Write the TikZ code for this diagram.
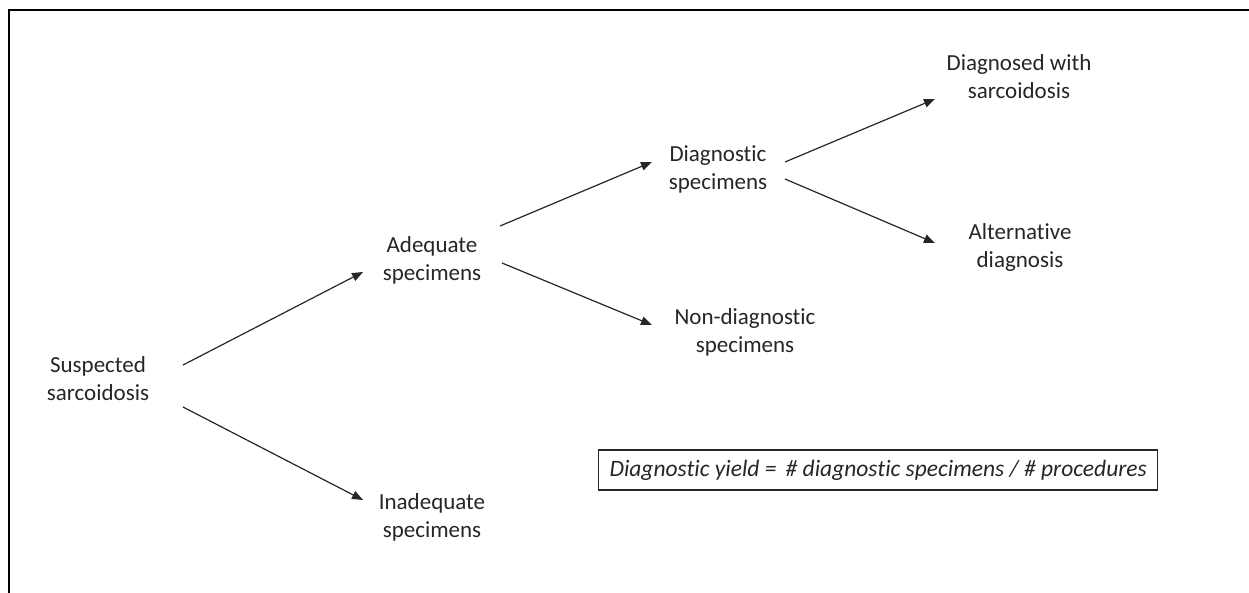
\documentclass[tikz,border=0pt]{standalone}
\usepackage{fontspec}
\setmainfont[Ligatures=NoCommon]{Carlito}
\usetikzlibrary{arrows.meta}
\definecolor{ink}{RGB}{38,38,38}
\tikzset{
  label/.style={align=center, text=ink, inner sep=0pt,
    font=\fontsize{23}{28}\selectfont},
  link/.style={draw=ink, line width=1.2pt,
    -{Triangle[length=11pt,width=8.5pt]}},
  formula/.style={draw=ink, line width=1.1pt, text=ink,
    minimum height=40pt, inner xsep=11pt,
    font=\fontsize{23.5}{28}\selectfont\itshape}
}
\begin{document}
\begin{tikzpicture}[x=1pt, y=-1pt]
  \useasboundingbox (0,0) rectangle (1249,592);
  % frame: top and left edges only
  \draw[line width=2.5pt, line cap=rect] (9,592) -- (9,10) -- (1249,10);

  % outcome nodes
  \node[label] (sus) at (98,379) {Suspected\\sarcoidosis};
  \node[label] (adq) at (432,260) {Adequate\\specimens};
  \node[label] (inadq) at (432,517) {Inadequate\\specimens};
  \node[label] (diag) at (718,169) {Diagnostic\\specimens};
  \node[label] (nondiag) at (745,332) {Non-diagnostic\\specimens};
  \node[label] (sarc) at (1019,77) {Diagnosed with\\sarcoidosis};
  \node[label] (alt) at (1020,247) {Alternative\\diagnosis};

  % definition box
  \node[formula, anchor=west] (yield) at (598,470)
    {Diagnostic yield = \,\# diagnostic specimens / \# procedures};

  % branches
  \draw[link] ([shift={(85,-14)}]sus.center) -- ([shift={(-69,12)}]adq.center);
  \draw[link] ([shift={(85,28)}]sus.center) -- ([shift={(-69,-17)}]inadq.center);
  \draw[link] ([shift={(68,-34)}]adq.center) -- ([shift={(-66,-7)}]diag.center);
  \draw[link] ([shift={(70,3)}]adq.center) -- ([shift={(-93,-7)}]nondiag.center);
  \draw[link] ([shift={(67,-7)}]diag.center) -- ([shift={(-84,22)}]sarc.center);
  \draw[link] ([shift={(67,10)}]diag.center) -- ([shift={(-85,-4)}]alt.center);
\end{tikzpicture}
\end{document}
